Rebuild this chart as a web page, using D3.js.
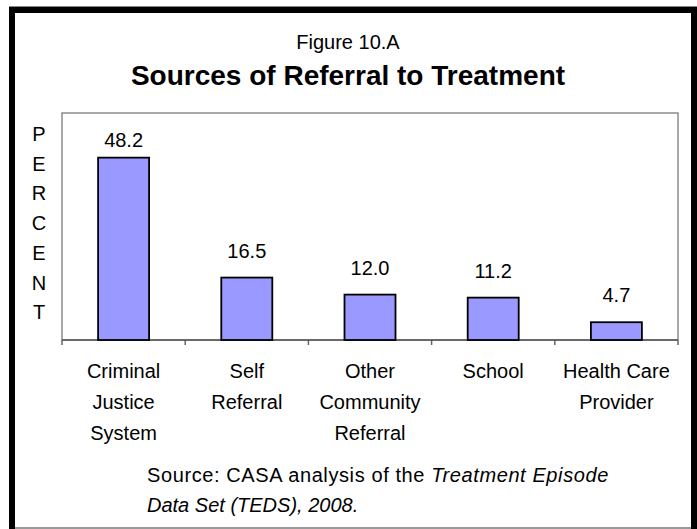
<!DOCTYPE html>
<html>
<head>
<meta charset="utf-8">
<script src="https://cdn.jsdelivr.net/npm/d3@7"></script>
<style>
  html, body { margin: 0; padding: 0; background: #fff; }
  svg { display: block; font-family: "Liberation Sans", Arial, sans-serif; }
</style>
</head>
<body>
<svg id="chart" width="697" height="529"></svg>
<script>
// Referral sources (percent of treatment admissions)
const categories = [
  ["Criminal", "Justice", "System"],
  ["Self", "Referral"],
  ["Other", "Community", "Referral"],
  ["School"],
  ["Health Care", "Provider"]
];
const values = [48.2, 16.5, 12.0, 11.2, 4.7];
const valueLabels = ["48.2", "16.5", "12.0", "11.2", "4.7"];
const yDomain = [0, 60];
const axisTitle = "PERCENT";

const svg = d3.select("#chart");
const W = 697, H = 529;

// Outer frame
svg.append("path")
  .attr("d", `M12,${H} V10 H694 V${H}`)
  .attr("fill", "none").attr("stroke", "#000").attr("stroke-width", 6);
svg.append("line").attr("x1", 9).attr("x2", 697).attr("y1", 6.5).attr("y2", 6.5)
  .attr("stroke", "#8a8a8a").attr("stroke-width", 1);
svg.append("line").attr("x1", 15).attr("x2", 691).attr("y1", 528).attr("y2", 528)
  .attr("stroke", "#777").attr("stroke-width", 1.5);

// Titles
svg.append("text").attr("x", 348).attr("y", 49).attr("text-anchor", "middle")
  .attr("font-size", 20).text("Figure 10.A");
svg.append("text").attr("x", 348).attr("y", 85).attr("text-anchor", "middle")
  .attr("font-size", 28).attr("font-weight", "bold")
  .text("Sources of Referral to Treatment");

// Plot area
const plot = { left: 62, right: 678, top: 113, bottom: 340 };
const x = d3.scaleBand()
  .domain(d3.range(values.length))
  .range([plot.left, plot.right])
  .paddingInner(0.586).paddingOuter(0.293);
const y = d3.scaleLinear().domain(yDomain).range([plot.bottom, plot.top]);

svg.append("rect")
  .attr("x", plot.left).attr("y", plot.top)
  .attr("width", plot.right - plot.left).attr("height", plot.bottom - plot.top)
  .attr("fill", "none").attr("stroke", "#8c8c8c").attr("stroke-width", 1.5);

// Category boundary ticks along the baseline
const boundaries = d3.range(values.length + 1).map(i => plot.left + i * x.step());
svg.append("g").selectAll("line").data(boundaries).join("line")
  .attr("x1", d => d).attr("x2", d => d)
  .attr("y1", plot.bottom).attr("y2", plot.bottom + 5)
  .attr("stroke", "#666").attr("stroke-width", 1.5);
svg.append("line")
  .attr("x1", plot.left).attr("x2", plot.right)
  .attr("y1", plot.bottom).attr("y2", plot.bottom)
  .attr("stroke", "#555").attr("stroke-width", 1.5);

// Bars
svg.append("g").selectAll("rect").data(values).join("rect")
  .attr("x", (d, i) => x(i)).attr("width", x.bandwidth())
  .attr("y", d => y(d)).attr("height", d => y(0) - y(d))
  .attr("fill", "#9999ff").attr("stroke", "#000").attr("stroke-width", 1.8);

// Value labels
svg.append("g").selectAll("text").data(values).join("text")
  .attr("x", (d, i) => x(i) + x.bandwidth() / 2)
  .attr("y", d => Math.max(y(d) - 20, plot.top + 34))
  .attr("text-anchor", "middle").attr("font-size", 20)
  .text((d, i) => valueLabels[i]);

// Category labels
const cat = svg.append("g").selectAll("text").data(categories).join("text")
  .attr("text-anchor", "middle").attr("font-size", 20);
cat.selectAll("tspan").data((d, i) => d.map(s => ({ s, i }))).join("tspan")
  .attr("x", d => x(d.i) + x.bandwidth() / 2)
  .attr("y", (d, j) => 378 + j * 31)
  .text(d => d.s);

// Vertical axis title, one letter per line
svg.append("g").selectAll("text").data(axisTitle.split("")).join("text")
  .attr("x", 39).attr("y", (d, i) => 141 + i * 29.7)
  .attr("text-anchor", "middle").attr("font-size", 20)
  .text(d => d);

// Source note
const note = svg.append("text").attr("font-size", 20).attr("letter-spacing", 0.6);
note.append("tspan").attr("x", 147).attr("y", 482).text("Source: CASA analysis of the ");
note.append("tspan").attr("font-style", "italic").text("Treatment Episode");
const note2 = svg.append("text").attr("font-size", 20).attr("font-style", "italic");
note2.append("tspan").attr("x", 147).attr("y", 512).text("Data Set (TEDS), 2008.");
</script>
</body>
</html>
